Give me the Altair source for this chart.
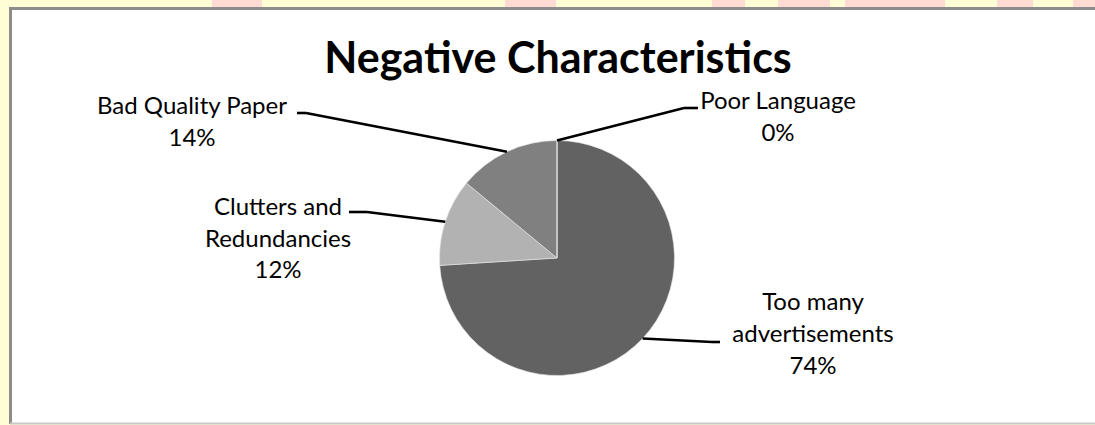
import numpy as np
import pandas as pd
import altair as alt

# ---- data ----
categories = ["Too many advertisements", "Clutters and Redundancies", "Bad Quality Paper", "Poor Language"]
values = [74, 12, 14, 0]
label_lines = [["Too many", "advertisements", "74%"],
               ["Clutters and", "Redundancies", "12%"],
               ["Bad Quality Paper", "14%"],
               ["Poor Language", "0%"]]
title_text = "Negative Characteristics"

# ---- layout / style ----
W, H = 1095, 425
CX, CY, R = 557, 258, 117.5
slice_colors = ["#626262", "#b2b2b2", "#808080", "#9a9a9a"]
label_pos = [(813, 303, 32), (278, 208, 31.5), (192, 107, 31.5), (778, 102, 31.5)]  # center x, first line y, line step
elbows = [((712, 342), (720, 342)),
          ((367, 212), (349, 212)),
          ((306, 113), (297, 113)),
          ((684, 108), (698, 108))]
FONT = "Lato"

pie_df = pd.DataFrame({"category": categories, "value": values, "idx": range(len(values))})

# leader lines: start at slice edge at its mid-angle
total = float(sum(values))
cum = np.cumsum([0] + values[:-1])
segs = []
for i, v in enumerate(values):
    mid = (cum[i] + v / 2.0) / total * 2 * np.pi
    ex, ey = CX + R * np.sin(mid), CY - R * np.cos(mid)
    (ax, ay), (bx, by) = elbows[i]
    segs.append({"x": ex, "y": ey, "x2": ax, "y2": ay})
    segs.append({"x": ax, "y": ay, "x2": bx, "y2": by})
seg_df = pd.DataFrame(segs)

txt = []
for i, lines in enumerate(label_lines):
    lx, ly, step = label_pos[i]
    for j, s in enumerate(lines):
        txt.append({"x": lx, "y": ly + j * step, "t": s})
txt_df = pd.DataFrame(txt)

px = lambda f: alt.X(f + ":Q", scale=None, axis=None)
py = lambda f: alt.Y(f + ":Q", scale=None, axis=None)

# background decorations
frame = alt.Chart(pd.DataFrame({"a": [0]})).mark_rect(fill="white").encode(
    x=alt.value(10), x2=alt.value(1100), y=alt.value(8), y2=alt.value(423))
pink_df = pd.DataFrame({"x": [212, 505, 712, 778, 845, 997, 1073],
                        "x2": [262, 556, 745, 830, 945, 1033, 1095]})
pink = alt.Chart(pink_df).mark_rect(fill="#ffd2d2", opacity=0.8).encode(
    x=px("x"), x2="x2:Q", y=alt.value(0), y2=alt.value(7))
border_left = alt.Chart(pd.DataFrame({"a": [0]})).mark_rule(color="#8c8c8c", strokeWidth=3).encode(
    x=alt.value(10.5), y=alt.value(7), y2=alt.value(424))
border_top = alt.Chart(pd.DataFrame({"a": [0]})).mark_rule(color="#8c8c8c", strokeWidth=3).encode(
    x=alt.value(9), x2=alt.value(1100), y=alt.value(8.5))
border_bottom = alt.Chart(pd.DataFrame({"a": [0]})).mark_rule(color="#c8c8c8", strokeWidth=2).encode(
    x=alt.value(10), x2=alt.value(1100), y=alt.value(423.5))

pie = alt.Chart(pie_df).mark_arc(outerRadius=R, stroke="#e8e8e8", strokeWidth=0.6).encode(
    theta=alt.Theta("value:Q", stack=True),
    color=alt.Color("category:N", scale=alt.Scale(domain=categories, range=slice_colors), legend=None),
    order=alt.Order("idx:Q"),
    x=alt.value(CX), y=alt.value(CY))

leaders = alt.Chart(seg_df).mark_rule(color="black", strokeWidth=2.6).encode(
    x=px("x"), y=py("y"), x2="x2:Q", y2="y2:Q")

labels = alt.Chart(txt_df).mark_text(font=FONT, fontSize=24, color="black", baseline="middle", align="center").encode(
    x=px("x"), y=py("y"), text="t:N")

title = alt.Chart(pd.DataFrame({"t": [title_text]})).mark_text(
    font=FONT, fontSize=43, fontWeight="bold", color="black", baseline="alphabetic", align="center").encode(
    x=alt.value(558), y=alt.value(73), text="t:N")

chart = alt.layer(frame, pink, border_left, border_top, border_bottom, pie, leaders, labels, title).properties(
    width=W, height=H, autosize=alt.AutoSizeParams(type="none"), padding=0, background="#fffdd6"
).configure_view(stroke=None)

chart.save("out.html", embed_options={"renderer": "svg", "actions": False})
